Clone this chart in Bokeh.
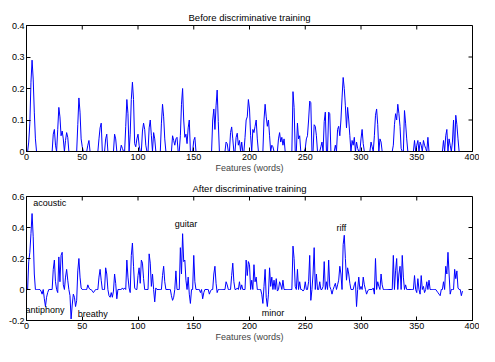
import numpy as np
from bokeh.plotting import figure
from bokeh.layouts import column
from bokeh.models import Range1d, FixedTicker, ColumnDataSource
from bokeh.core.properties import value
from bokeh.embed import file_html
from bokeh.resources import INLINE

FONT = "Liberation Sans"

# ---- data: feature index -> weight (all other features are 0) ----
before_idx = [2, 3, 4, 5, 6, 7, 8,
              24, 25, 26, 28, 29, 30, 31, 32, 33, 35, 36, 37,
              46, 47, 48, 49, 50, 55, 56, 65, 66, 67, 71, 72, 79, 80, 85, 86,
              89, 90, 91, 93, 94, 95, 96, 97, 98, 99, 100, 101,
              104, 105, 106, 107, 110, 111, 112, 114, 115,
              121, 122, 123, 124, 131, 132, 133, 134, 135,
              138, 139, 140, 141, 142, 143, 144, 145, 146, 150, 151,
              167, 168, 169, 170, 171, 172, 179, 180, 183, 184, 185,
              188, 189, 190, 191, 193,
              196, 197, 198, 199, 200, 201, 203, 204, 205, 206, 207,
              213, 214, 215, 216, 217, 218, 220, 221,
              226, 227, 228, 229, 230, 231, 239, 240, 243, 244, 245,
              250, 251, 252, 253, 254, 255, 258, 259, 260,
              264, 265, 267, 268, 271, 272,
              277, 279, 280, 281, 282, 283, 284, 285, 286, 287, 288, 289, 290,
              292, 293, 294, 296, 297, 300, 301, 302,
              309, 310, 312, 313, 314, 315, 317, 318,
              329, 330, 331, 332, 333, 334, 335, 336, 339, 340, 341,
              348, 350, 351, 353, 354, 356, 357, 358, 360,
              374, 376, 377, 379, 380, 382, 383, 385, 386, 387]
before_val = [0.03, 0.09, 0.22, 0.29, 0.23, 0.125, 0.04,
              0.055, 0.07, 0.02, 0.07, 0.14, 0.11, 0.05, 0.065, 0.04, 0.035, 0.06, 0.045,
              0.085, 0.17, 0.125, 0.04, 0.015, 0.02, 0.035, 0.04, 0.075, 0.09, 0.04, 0.055, 0.055, 0.04, 0.02, 0.01,
              0.08, 0.165, 0.12, 0.055, 0.165, 0.22, 0.165, 0.025, 0.015, 0.04, 0.055, 0.02,
              0.065, 0.09, 0.07, 0.02, 0.075, 0.1, 0.05, 0.06, 0.04,
              0.09, 0.15, 0.11, 0.04, 0.05, 0.035, 0.02, 0.04, 0.045,
              0.05, 0.15, 0.2, 0.1, 0.045, 0.055, 0.025, 0.075, 0.1, 0.035, 0.045,
              0.1, 0.135, 0.07, 0.145, 0.195, 0.095, 0.03, 0.025, 0.06, 0.078, 0.04,
              0.045, 0.058, 0.02, 0.035, 0.03,
              0.045, 0.1, 0.11, 0.165, 0.135, 0.05, 0.07, 0.06, 0.08, 0.1, 0.04,
              0.1, 0.15, 0.11, 0.08, 0.1, 0.05, 0.02, 0.015,
              0.04, 0.06, 0.03, 0.045, 0.02, 0.04, 0.19, 0.14, 0.09, 0.04, 0.05,
              0.01, 0.04, 0.05, 0.1, 0.16, 0.155, 0.085, 0.08, 0.05,
              0.015, 0.03, 0.095, 0.125, 0.125, 0.12,
              0.02, 0.07, 0.08, 0.05, 0.1, 0.17, 0.235, 0.2, 0.145, 0.075, 0.14, 0.1, 0.05,
              0.035, 0.02, 0.045, 0.03, 0.01, 0.04, 0.07, 0.025,
              0.03, 0.015, 0.05, 0.115, 0.135, 0.085, 0.04, 0.03,
              0.02, 0.085, 0.12, 0.1, 0.15, 0.12, 0.08, 0.01, 0.13, 0.09, 0.04,
              0.035, 0.02, 0.035, 0.03, 0.02, 0.035, 0.02, 0.01, 0.045,
              0.035, 0.05, 0.07, 0.04, 0.02, 0.03, 0.1, 0.115, 0.085, 0.04]
before_n = 400

after_idx = [2, 3, 4, 5, 6, 7,
             13, 14, 16, 17, 18, 19, 24, 25, 26,
             28, 29, 30, 31, 32, 33, 35, 36, 37,
             39, 40, 41, 42, 43, 44, 45, 46, 47, 48, 49,
             55, 56, 59, 60, 61, 65, 66, 67, 71, 72,
             74, 75, 76, 77, 78, 79, 80, 81, 86, 88,
             90, 91, 92, 93, 94, 95, 96, 97,
             100, 101, 102, 103, 104, 105, 110, 111, 112, 113, 115, 116,
             122, 123, 124, 130, 131, 132, 134,
             138, 139, 140, 141, 142, 143, 145, 146, 147, 150, 151,
             156, 158, 159, 164, 165, 168, 169, 170, 171,
             179, 180, 184, 185, 186, 189, 191, 193,
             197, 198, 199, 200, 202, 204, 205, 206,
             211, 212, 213, 214, 215, 216, 217, 218, 219,
             220, 222, 224, 225, 227, 228, 230,
             239, 240, 241, 243, 245, 248, 250,
             253, 254, 255, 257, 258, 260, 263, 266, 267, 269,
             271, 272, 274, 276, 277, 279, 280, 281, 282,
             284, 285, 286, 287, 288, 289, 290, 294, 295, 296,
             298, 300, 302, 303, 305, 306,
             311, 312, 313, 315, 316, 318, 319,
             329, 331, 332, 334, 335, 337, 338, 340,
             348, 350, 351, 353, 354, 356, 357, 359, 361,
             368, 369, 370, 371, 374, 376, 377, 378, 379, 380,
             384, 385, 386, 387, 390, 391]
after_val = [0.18, 0.24, 0.36, 0.49, 0.34, 0.1,
             -0.01, -0.03, -0.06, -0.11, -0.05, -0.02, 0.13, 0.19, 0.05,
             -0.02, 0.21, 0.05, 0.22, 0.24, 0.03, 0.08, 0.13, 0.06,
             -0.04, -0.19, -0.1, -0.03, -0.05, -0.11, -0.07, 0.12, 0.2, 0.08, 0.01,
             0.03, 0.01, -0.01, -0.02, -0.01, 0.08, 0.13, 0.06, 0.14, 0.1,
             -0.04, -0.05, -0.02, -0.05, -0.01, 0.1, 0.04, -0.06, 0.01, 0.01,
             0.19, 0.08, 0.01, -0.02, 0.22, 0.3, 0.15, 0.01,
             0.09, 0.14, 0.04, 0.19, 0.17, 0.07, 0.23, 0.17, 0.02, 0.1, -0.08, 0.01,
             0.09, 0.15, 0.05, -0.04, -0.07, -0.05, 0.12,
             0.27, 0.1, 0.36, 0.18, 0.19, 0.06, 0.08, -0.03, -0.09, 0.22, 0.05,
             -0.02, -0.06, -0.02, -0.03, -0.01, 0.1, 0.15, 0.04, -0.02,
             0.05, 0.03, 0.09, 0.17, 0.05, 0.01, 0.05, 0.03,
             0.19, 0.09, 0.18, 0.16, 0.06, 0.16, 0.05, 0.08,
             -0.03, -0.09, 0.02, 0.13, -0.05, -0.11, -0.03, 0.14, 0.02,
             0.08, 0.06, 0.07, -0.01, 0.05, 0.03, 0.06,
             0.28, 0.2, 0.02, 0.13, 0.05, -0.01, 0.05,
             0.05, 0.22, -0.07, 0.1, 0.27, 0.1, 0.05, 0.02, 0.18, 0.05,
             0.19, 0.02, -0.03, 0.02, 0.04, 0.03, 0.06, 0.15, 0.1,
             0.29, 0.35, 0.2, 0.06, 0.14, 0.1, 0.04, 0.03, 0.05, -0.11,
             0.08, 0.02, 0.08, 0.03, -0.03, -0.01,
             0.01, -0.03, 0.2, 0.05, 0.02, 0.1, 0.03,
             0.22, 0.12, 0.2, 0.1, 0.15, 0.22, 0.08, 0.03,
             0.09, -0.02, 0.07, -0.03, 0.09, 0.02, -0.02, 0.05, 0.06,
             -0.01, -0.02, -0.03, -0.04, 0.05, 0.15, 0.1, 0.24, 0.1, -0.03,
             0.13, 0.07, 0.12, 0.01, -0.04, -0.01]
after_n = 391

word_labels = ["acoustic", "antiphony", "breathy", "guitar", "minor", "riff"]
word_x = [6, -1, 46, 133, 211, 278]
word_y = [0.56, -0.135, -0.16, 0.42, -0.15, 0.40]

x_ticks = [0, 50, 100, 150, 200, 250, 300, 350, 400]
top_yticks = [0, 0.1, 0.2, 0.3, 0.4]
top_ylabels = ["0", "0.1", "0.2", "0.3", "0.4"]
bot_yticks = [-0.2, 0, 0.2, 0.4, 0.6]
bot_ylabels = ["-0.2", "0", "0.2", "0.4", "0.6"]

XMIN, XMAX = 0, 400
TICK_PX = 4
FIG_W = 479
BORDER_L, BORDER_R = 26, 7


def series(idx, val, n):
    y = np.zeros(n)
    y[np.array(idx) - 1] = val
    return np.arange(1, n + 1), y


def make_fig(title, height, ymin, ymax, yticks, ylabels, bt, bb):
    p = figure(width=FIG_W, height=height, output_backend="svg", toolbar_location=None,
               x_range=Range1d(XMIN, XMAX), y_range=Range1d(ymin, ymax),
               min_border_left=BORDER_L, min_border_right=BORDER_R,
               min_border_top=bt, min_border_bottom=bb)
    p.title.text = title
    p.title.align = "center"
    p.title.text_font = FONT
    p.title.text_font_size = "9.5px"
    p.title.text_font_style = "normal"
    p.title.text_color = "black"
    p.title.standoff = 5
    p.grid.visible = False
    p.outline_line_color = "black"
    p.outline_line_alpha = 1

    def style_axis(ax, ticks, labels):
        ax.ticker = FixedTicker(ticks=ticks)
        ax.axis_line_color = "black"
        ax.major_tick_line_color = "black"
        ax.major_tick_in = TICK_PX
        ax.major_tick_out = 0
        ax.minor_tick_in = 0
        ax.minor_tick_out = 0
        ax.major_label_text_font = FONT
        ax.major_label_text_color = "black"
        ax.major_label_text_font_size = "9px"
        ax.major_label_standoff = 2
        ax.major_label_overrides = {t: l for t, l in zip(ticks, labels)}

    style_axis(p.xaxis[0], x_ticks, [str(t) for t in x_ticks])
    style_axis(p.yaxis[0], yticks, ylabels)
    p.xaxis[0].axis_label = "Features (words)"
    p.xaxis[0].axis_label_text_font = FONT
    p.xaxis[0].axis_label_text_font_size = "9px"
    p.xaxis[0].axis_label_text_font_style = "normal"
    p.xaxis[0].axis_label_standoff = 0

    # inward tick marks on the top and right edges of the box (MATLAB "box on")
    frame_w = FIG_W - BORDER_L - BORDER_R
    frame_h = height - bt - bb
    dy = (ymax - ymin) * TICK_PX / frame_h
    dx = (XMAX - XMIN) * TICK_PX / frame_w
    p.segment(x0=x_ticks, y0=[ymax] * len(x_ticks), x1=x_ticks, y1=[ymax - dy] * len(x_ticks),
              line_color="black", line_width=1)
    p.segment(x0=[XMAX] * len(yticks), y0=yticks, x1=[XMAX - dx] * len(yticks), y1=yticks,
              line_color="black", line_width=1)
    return p


p1 = make_fig("Before discriminative training", 177, 0, 0.4, top_yticks, top_ylabels, 25, 26)
bx, by = series(before_idx, before_val, before_n)
p1.line(bx, by, line_color="#0000ff", line_width=1)

p2 = make_fig("After discriminative training", 169, -0.2, 0.6, bot_yticks, bot_ylabels, 19, 26)
ax_, ay_ = series(after_idx, after_val, after_n)
p2.line(ax_, ay_, line_color="#0000ff", line_width=1)
src = ColumnDataSource(dict(x=word_x, y=word_y, t=word_labels))
p2.text(x="x", y="y", text="t", source=src, text_font=value(FONT), text_font_size="9px",
        text_align="left", text_baseline="middle", text_color="black")

layout = column(p1, p2, spacing=0)
open("out.html", "w").write(file_html(layout, INLINE))
